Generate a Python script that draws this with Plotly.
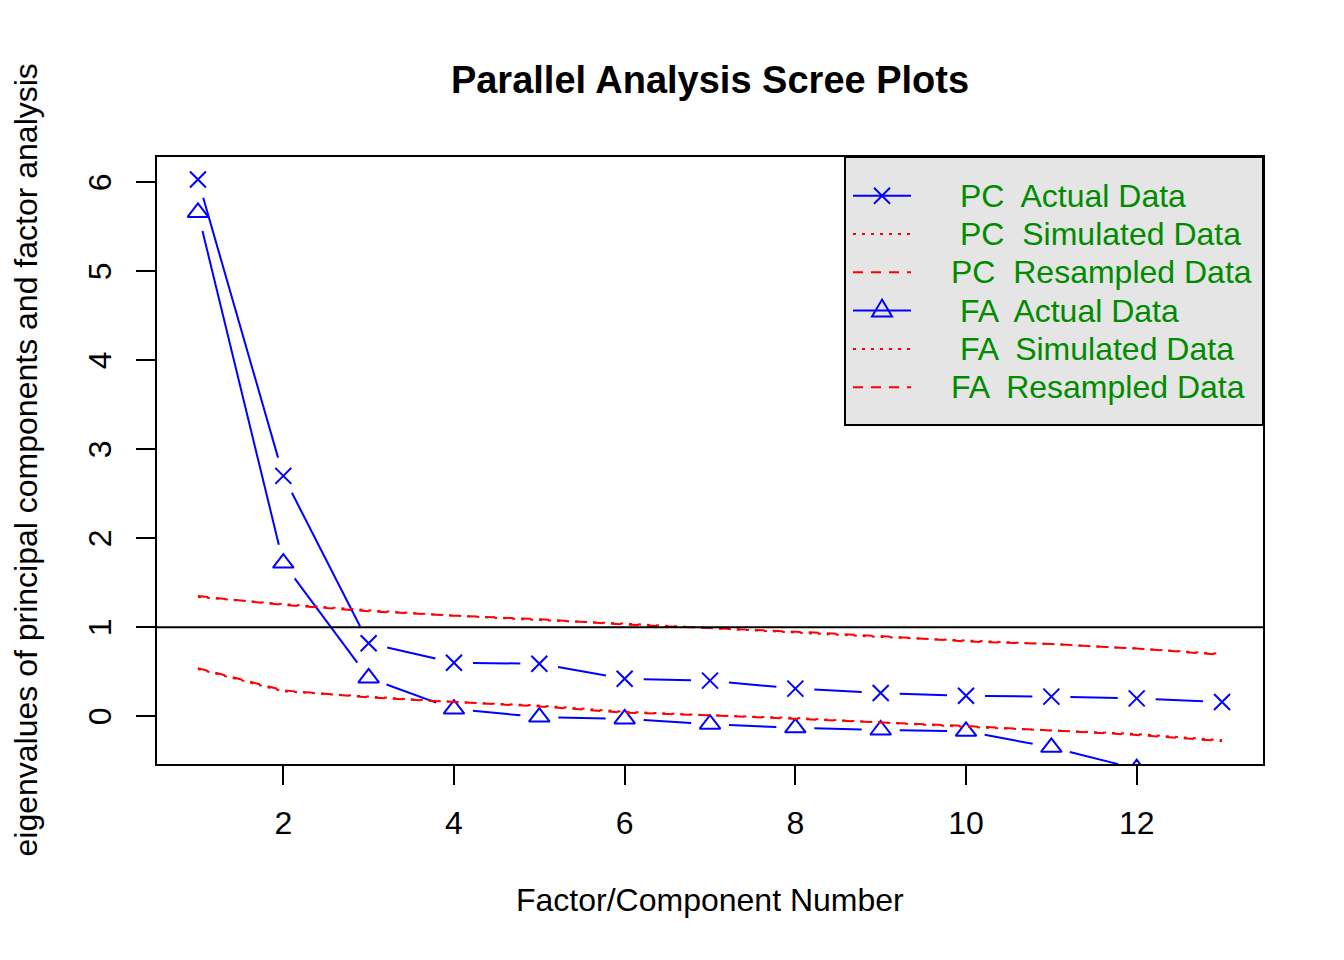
import math
import plotly.graph_objects as go

factors = list(range(1, 14))
pc_actual = [6.03, 2.70, 0.82, 0.60, 0.59, 0.42, 0.40, 0.31, 0.26, 0.23, 0.22, 0.20, 0.16]
pc_simulated = [1.34, 1.26, 1.19, 1.13, 1.08, 1.04, 0.99, 0.94, 0.89, 0.85, 0.81, 0.76, 0.70]
pc_resampled = [1.35, 1.25, 1.18, 1.13, 1.09, 1.03, 0.99, 0.95, 0.90, 0.84, 0.81, 0.76, 0.69]
fa_actual = [5.66, 1.72, 0.43, 0.08, -0.01, -0.03, -0.09, -0.13, -0.155, -0.17, -0.35, -0.59, -0.70]
fa_simulated = [0.53, 0.28, 0.22, 0.16, 0.12, 0.05, 0.01, -0.02, -0.07, -0.12, -0.16, -0.20, -0.27]
fa_resampled = [0.54, 0.29, 0.21, 0.16, 0.11, 0.04, 0.01, -0.03, -0.07, -0.11, -0.16, -0.21, -0.28]
x_ticks = [2, 4, 6, 8, 10, 12]
y_ticks = [0, 1, 2, 3, 4, 5, 6]
legend_labels = ["PC  Actual Data", "PC  Simulated Data", "PC  Resampled Data",
                 "FA  Actual Data", "FA  Simulated Data", "FA  Resampled Data"]

FONT = "Liberation Sans, Arial, Helvetica, sans-serif"
DOT = "3px,6px"
DASH = "10px,8px"
GREEN = "#008B00"

# figure geometry (page body has an 8px margin)
OFF = 8
FIG_W, FIG_H = 1344 - OFF, 960 - OFF
PL, PR, PT, PB = 157, 1263, 157, 764      # plot area in screen px
XR = [0.52, 13.48]
YR = [-0.537, 6.283]
PW, PH = PR - PL, PB - PT


def to_px(xv, yv):
    return (PL + (xv - XR[0]) / (XR[1] - XR[0]) * PW,
            PB - (yv - YR[0]) / (YR[1] - YR[0]) * PH)


def from_px(sx, sy):
    return (XR[0] + (sx - PL) / PW * (XR[1] - XR[0]),
            YR[0] + (PB - sy) / PH * (YR[1] - YR[0]))


def gapped(xs, ys, gap=19):
    """R type='b' style: line segments that stop short of each point."""
    ox, oy = [], []
    for i in range(len(xs) - 1):
        x0, y0 = to_px(xs[i], ys[i])
        x1, y1 = to_px(xs[i + 1], ys[i + 1])
        d = math.hypot(x1 - x0, y1 - y0)
        if d <= 2 * gap:
            continue
        ux, uy = (x1 - x0) / d, (y1 - y0) / d
        a = from_px(x0 + ux * gap, y0 + uy * gap)
        b = from_px(x1 - ux * gap, y1 - uy * gap)
        ox += [a[0], b[0], None]
        oy += [a[1], b[1], None]
    return ox, oy


fig = go.Figure()
for ys, sym, size in [(pc_actual, "x-thin-open", 16), (fa_actual, "triangle-up-open", 18)]:
    gx, gy = gapped(factors, ys)
    fig.add_trace(go.Scatter(x=gx, y=gy, mode="lines", showlegend=False, hoverinfo="skip",
                             line=dict(color="blue", width=2)))
    fig.add_trace(go.Scatter(x=factors, y=ys, mode="markers", showlegend=False,
                             marker=dict(symbol=sym, size=size, color="blue",
                                         line=dict(color="blue", width=2))))
for ys, dash in [(pc_simulated, DOT), (pc_resampled, DASH),
                 (fa_simulated, DOT), (fa_resampled, DASH)]:
    fig.add_trace(go.Scatter(x=factors, y=ys, mode="lines", showlegend=False,
                             line=dict(color="red", width=2, dash=dash)))

shapes = [dict(type="line", xref="paper", x0=0, x1=1, yref="y", y0=1, y1=1,
               line=dict(color="black", width=2), layer="above")]
annotations = []


def px_paper(sx, sy):
    return (sx - PL) / PW, (PB - sy) / PH


# manual legend (R-style)
bx0, by0 = px_paper(845, 157)
bx1, by1 = px_paper(1263, 425)
shapes.append(dict(type="rect", xref="paper", yref="paper", x0=bx0, x1=bx1, y0=by1, y1=by0,
                   fillcolor="#E5E5E5", line=dict(color="black", width=2), layer="above"))
row_y0, row_step = 195.7, 38.3
styles = ["x", "dot", "dash", "tri", "dot", "dash"]
text_x = [958, 958, 949, 958, 958, 949]
for i, (lab, st) in enumerate(zip(legend_labels, styles)):
    cy = row_y0 + i * row_step
    lx0, ly = px_paper(853, cy)
    lx1, _ = px_paper(911, cy)
    if st in ("x", "tri"):
        shapes.append(dict(type="line", xref="paper", yref="paper", x0=lx0, x1=lx1, y0=ly, y1=ly,
                           line=dict(color="blue", width=2), layer="above"))
        cx = 882
        if st == "x":
            for dy in (-1, 1):
                a = px_paper(cx - 8, cy - 8 * dy)
                b = px_paper(cx + 8, cy + 8 * dy)
                shapes.append(dict(type="line", xref="paper", yref="paper",
                                   x0=a[0], y0=a[1], x1=b[0], y1=b[1],
                                   line=dict(color="blue", width=2), layer="above"))
        else:
            p1 = px_paper(cx, cy - 11)
            p2 = px_paper(cx + 10, cy + 6)
            p3 = px_paper(cx - 10, cy + 6)
            path = f"M {p1[0]} {p1[1]} L {p2[0]} {p2[1]} L {p3[0]} {p3[1]} Z"
            shapes.append(dict(type="path", xref="paper", yref="paper", path=path,
                               line=dict(color="blue", width=2), layer="above"))
    else:
        shapes.append(dict(type="line", xref="paper", yref="paper", x0=lx0, x1=lx1, y0=ly, y1=ly,
                           line=dict(color="red", width=2, dash=DOT if st == "dot" else DASH),
                           layer="above"))
    tx, ty = px_paper(text_x[i], cy)
    annotations.append(dict(text=lab, xref="paper", yref="paper", x=tx, y=ty, showarrow=False,
                            xanchor="left", yanchor="middle",
                            font=dict(size=32, family=FONT, color=GREEN)))

annotations += [
    dict(text="Factor/Component Number", xref="paper", yref="paper", x=0.5, y=0,
         yshift=-(900 - PB), showarrow=False, yanchor="middle", xanchor="center",
         font=dict(size=32, family=FONT, color="black")),
    dict(text="eigenvalues of principal components and factor analysis", xref="paper",
         yref="paper", x=0, y=0.5, xshift=-(PL - 25), showarrow=False, textangle=-90,
         xanchor="center", yanchor="middle",
         font=dict(size=32, family=FONT, color="black")),
]

fig.update_layout(
    width=FIG_W, height=FIG_H,
    margin=dict(l=PL - OFF, r=1344 - PR, t=PT - OFF, b=960 - PB, pad=0),
    paper_bgcolor="white", plot_bgcolor="white",
    font=dict(family=FONT, size=32, color="black"),
    title=dict(text="<b>Parallel Analysis Scree Plots</b>", x=0.5, xref="paper",
               y=1 - (80 - OFF) / FIG_H, yref="container", yanchor="middle",
               font=dict(size=38, family=FONT, color="black")),
    showlegend=False,
    xaxis=dict(range=XR, tickvals=x_ticks, ticks="outside", ticklen=19,
               tickwidth=2, tickcolor="black", showgrid=False, zeroline=False,
               showline=True, linecolor="black", linewidth=2, mirror=True,
               ticklabelstandoff=11),
    yaxis=dict(range=YR, tickvals=y_ticks, ticks="outside", ticklen=19,
               tickwidth=2, tickcolor="black", showgrid=False, zeroline=False,
               showline=True, linecolor="black", linewidth=2, mirror=True,
               tickangle=-90, ticklabelstandoff=12, ticklabelshift=5),
    shapes=shapes,
    annotations=annotations,
)

fig.write_html("out.html")
